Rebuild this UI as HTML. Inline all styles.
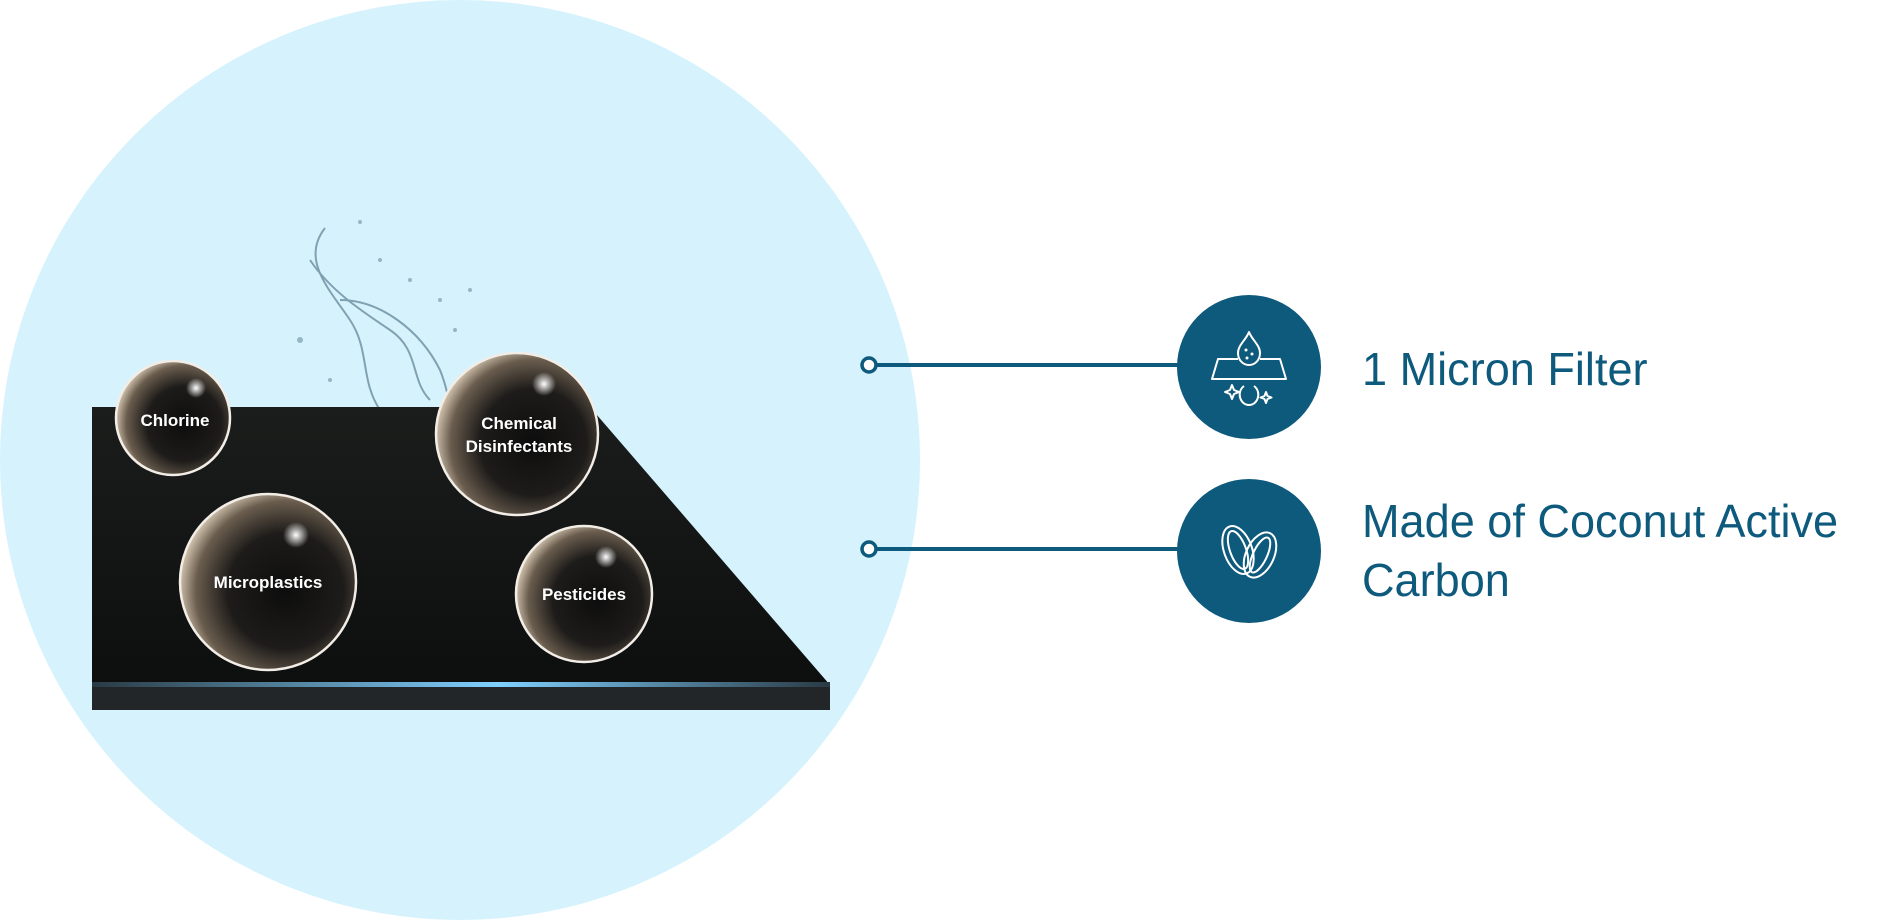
<!DOCTYPE html>
<html><head><meta charset="utf-8"><style>
html,body{margin:0;padding:0;background:#fff;}
body{width:1900px;height:920px;position:relative;overflow:hidden;font-family:"Liberation Sans",sans-serif;}
.big{position:absolute;left:0;top:0;width:920px;height:920px;border-radius:50%;background:#d6f3fd;}
.lbl{position:absolute;color:#0e5a7d;font-size:46px;white-space:nowrap;transform-origin:0 0;transform:scaleX(0.98);letter-spacing:0px;}
</style></head><body>
<div class="big"></div>
<svg width="1900" height="920" style="position:absolute;left:0;top:0">
<defs>
<linearGradient id="slab" x1="0" y1="0" x2="0" y2="1">
<stop offset="0" stop-color="#1b1d1c"/><stop offset="1" stop-color="#0c0d0d"/>
</linearGradient>
<linearGradient id="glow" x1="0" y1="0" x2="1" y2="0">
<stop offset="0" stop-color="#2a3a44"/><stop offset="0.55" stop-color="#7fd0ff"/><stop offset="1" stop-color="#2a3a44"/>
</linearGradient>
<radialGradient id="bub" cx="0.6" cy="0.55" r="0.6">
<stop offset="0" stop-color="#0d0d0d"/><stop offset="0.55" stop-color="#1e1c1a"/><stop offset="0.85" stop-color="#6a5d4e"/><stop offset="1" stop-color="#c9bba6"/>
</radialGradient>
<radialGradient id="hl" cx="0.5" cy="0.5" r="0.5">
<stop offset="0" stop-color="#fff" stop-opacity="1"/><stop offset="1" stop-color="#fff" stop-opacity="0"/>
</radialGradient>
</defs>
<g stroke="#5d7f92" stroke-width="2" fill="none" opacity="0.7">
<path d="M325 228 C300 260 330 290 350 320 C370 350 360 380 380 410 C400 450 390 500 420 540"/>
<path d="M310 260 C330 290 360 310 390 330 C420 350 410 380 430 400"/>
<path d="M340 300 C380 300 420 330 440 370 C460 420 450 470 440 510"/>
<path d="M360 520 C400 540 440 545 470 530"/>
</g>
<g fill="#6a8ea0" opacity="0.6">
<circle cx="360" cy="222" r="2"/><circle cx="380" cy="260" r="2"/><circle cx="410" cy="280" r="2"/><circle cx="300" cy="340" r="3"/><circle cx="440" cy="300" r="2"/><circle cx="455" cy="330" r="2"/><circle cx="470" cy="290" r="2"/><circle cx="330" cy="380" r="2"/>
</g>
<polygon points="92,407 590,407 830,685 830,710 92,710" fill="url(#slab)"/>
<rect x="92" y="684" width="738" height="26" fill="#232628"/>
<rect x="92" y="682" width="738" height="5" fill="url(#glow)"/>
<g stroke="#f2ede6" stroke-width="2.5">
<circle cx="173" cy="418" r="57" fill="url(#bub)"/>
<circle cx="517" cy="434" r="81" fill="url(#bub)"/>
<circle cx="268" cy="582" r="88" fill="url(#bub)"/>
<circle cx="584" cy="594" r="68" fill="url(#bub)"/>
</g>
<g fill="url(#hl)">
<circle cx="196" cy="388" r="10"/><circle cx="544" cy="384" r="12"/><circle cx="296" cy="535" r="13"/><circle cx="606" cy="557" r="11"/>
</g>
<g fill="#fff" font-family="Liberation Sans, sans-serif" font-weight="bold" font-size="17" text-anchor="middle">
<text x="175" y="426">Chlorine</text>
<text x="519" y="429">Chemical</text>
<text x="519" y="452">Disinfectants</text>
<text x="268" y="588">Microplastics</text>
<text x="584" y="600">Pesticides</text>
</g>
<g stroke="#0e5a7d" stroke-width="4" fill="none">
<line x1="876" y1="365" x2="1180" y2="365"/>
<line x1="876" y1="549" x2="1180" y2="549"/>
<circle cx="869" cy="365" r="7" fill="#fff" stroke-width="3.5"/>
<circle cx="869" cy="549" r="7" fill="#fff" stroke-width="3.5"/>
</g>
<circle cx="1249" cy="367" r="72" fill="#0e5a7d"/>
<circle cx="1249" cy="551" r="72" fill="#0e5a7d"/>
<g stroke="#fff" stroke-width="2" fill="none" stroke-linejoin="round">
<path d="M1249 332 C1246 340 1238 345 1238 353 C1238 360 1243 365 1249 365 C1255 365 1260 360 1260 353 C1260 345 1252 340 1249 332 Z"/>
<path d="M1238 359 L1218 359 L1212 379 L1286 379 L1280 359 L1260 359"/>
<path d="M1244 386 C1236 392 1240 405 1249 405 C1258 405 1262 392 1254 386"/>
<path d="M1232 385 l2 5 5 2 -5 2 -2 5 -2 -5 -5 -2 5 -2z"/>
<path d="M1266 392 l1.5 4 4 1.5 -4 1.5 -1.5 4 -1.5 -4 -4 -1.5 4 -1.5z"/>
</g>
<g fill="#fff"><circle cx="1246" cy="350" r="1.5"/><circle cx="1252" cy="354" r="1.5"/><circle cx="1247" cy="358" r="1.5"/></g>
<g stroke="#fff" stroke-width="2" fill="none">
<ellipse cx="1238" cy="550" rx="14" ry="25" transform="rotate(-20 1238 550)"/>
<ellipse cx="1238" cy="550" rx="8" ry="20" transform="rotate(-20 1238 550)"/>
<ellipse cx="1260" cy="555" rx="14" ry="24" transform="rotate(25 1260 555)"/>
<ellipse cx="1260" cy="555" rx="7" ry="19" transform="rotate(25 1260 555)"/>
</g>
</svg>
<div class="lbl" style="left:1362px;top:342px;">1 Micron Filter</div>
<div class="lbl" style="left:1362px;top:494px;">Made of Coconut Active</div>
<div class="lbl" style="left:1362px;top:553px;">Carbon</div>
</body></html>
